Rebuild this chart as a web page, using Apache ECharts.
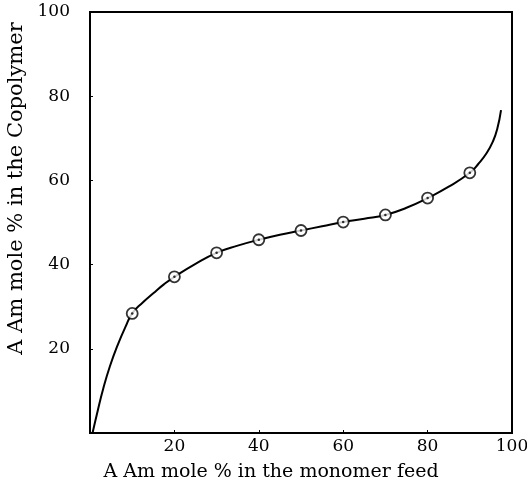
<!DOCTYPE html>
<html>
<head>
<meta charset="utf-8">
<title>AAm copolymer composition</title>
<script src="https://cdn.jsdelivr.net/npm/echarts@6/dist/echarts.min.js"></script>
<style>
  html, body { margin: 0; padding: 0; background: #fff; }
  #box { width: 527px; height: 482px; }
</style>
</head>
<body>
<div id="box"></div>
<script>
// measured points (feed %, copolymer %)
var feedPts = [10, 20, 30, 40, 50, 60, 70, 80, 90];
var copolyPts = [28.4, 37.1, 42.8, 45.9, 48.1, 50.1, 51.8, 55.8, 61.8];

// hand-drawn curve
var curveX = [0.6, 1.9, 3.1, 4.7, 6.6, 8.4, 10, 12.5, 15, 17.5, 20, 25, 30, 35, 40, 45, 50, 55, 60, 65, 70, 75, 80, 85, 90, 92, 94, 95.5, 96.5, 97.4];
var curveY = [0, 5.6, 10.4, 15.8, 21, 25.2, 28.4, 31, 33.2, 35.3, 37.1, 40.2, 42.8, 44.5, 45.9, 47.1, 48.1, 49.1, 50.1, 50.9, 51.8, 53.5, 55.8, 58.5, 61.8, 63.9, 66.5, 69.3, 72.2, 76.7];

var tickVals = [20, 40, 60, 80, 100];

function zip(a, b) {
    var out = [];
    for (var i = 0; i < a.length; i++) out.push([a[i], b[i]]);
    return out;
}

var txt = { fontFamily: 'DejaVu Serif', color: '#000' };

var myChart = echarts.init(document.getElementById('box'));
var option = {
    animation: false,
    backgroundColor: '#fff',
    grid: {
        left: 90, right: 15, top: 12, bottom: 49,
        outerBoundsMode: 'none', containLabel: false,
        show: true, borderColor: '#000', borderWidth: 2
    },
    xAxis: {
        type: 'value', min: 0, max: 100, interval: 20,
        name: 'A Am mole % in the monomer feed',
        nameLocation: 'middle', nameGap: 30,
        nameTextStyle: Object.assign({ fontSize: 19, padding: [0, 60, 0, 0] }, txt),
        axisLine: { lineStyle: { color: '#000', width: 2 } },
        axisTick: { inside: true, length: 3, lineStyle: { color: '#000' } },
        axisLabel: Object.assign({
            fontSize: 17, margin: 5,
            formatter: function (v) { return tickVals.indexOf(v) >= 0 ? v : ''; }
        }, txt),
        splitLine: { show: false }
    },
    yAxis: {
        type: 'value', min: 0, max: 100, interval: 20,
        name: 'A Am mole % in the Copolymer',
        nameLocation: 'middle', nameGap: 62,
        nameTextStyle: Object.assign({ fontSize: 21, padding: [0, 0, 0, 68] }, txt),
        axisLine: { lineStyle: { color: '#000', width: 2 } },
        axisTick: { inside: true, length: 3, lineStyle: { color: '#000' } },
        axisLabel: Object.assign({
            fontSize: 17, margin: 20,
            formatter: function (v) { return tickVals.indexOf(v) >= 0 ? v : ''; }
        }, txt),
        splitLine: { show: false }
    },
    series: [
        {
            type: 'line', smooth: 0.5, showSymbol: false,
            lineStyle: { color: '#000', width: 2 },
            data: zip(curveX, curveY), z: 2
        },
        {
            type: 'scatter', symbol: 'circle', symbolSize: 11,
            itemStyle: { color: '#fff', borderColor: '#000', borderWidth: 1.8 },
            data: zip(feedPts, copolyPts), z: 3
        },
        {
            type: 'scatter', symbol: 'circle', symbolSize: 2.5,
            itemStyle: { color: '#000' },
            data: zip(feedPts, copolyPts), z: 4
        }
    ]
};
myChart.setOption(option);
</script>
</body>
</html>
